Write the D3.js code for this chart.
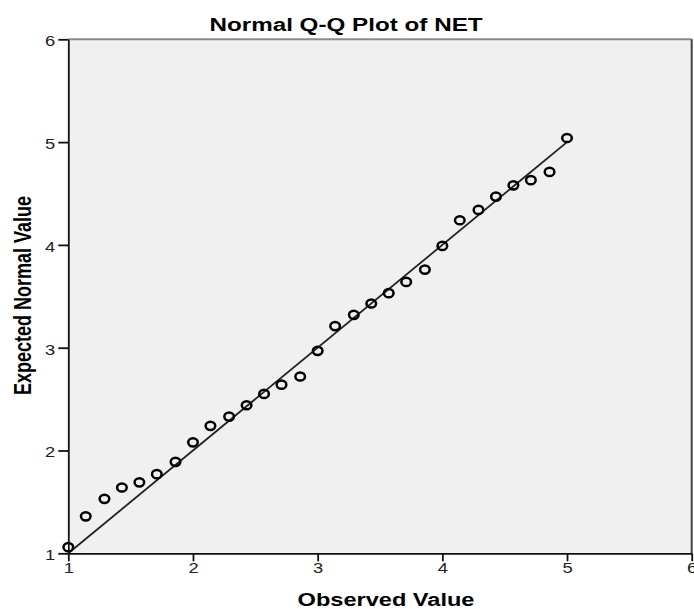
<!DOCTYPE html>
<html lang="en">
<head>
    <meta charset="UTF-8">
    <title>Normal Q-Q Plot of NET</title>
    <script src="https://cdn.jsdelivr.net/npm/d3@7"></script>
    <style>
        body { margin: 0; background: #fff; }
        text { font-family: "Liberation Sans", Arial, sans-serif; }
    </style>
</head>
<body>
    <svg id="chart" width="694" height="609"></svg>

    <script>
        // data
        const observed = [1.00, 1.14, 1.29, 1.43, 1.57, 1.71, 1.86, 2.00, 2.14, 2.29,
                          2.43, 2.57, 2.71, 2.86, 3.00, 3.14, 3.29, 3.43, 3.57, 3.71,
                          3.86, 4.00, 4.14, 4.29, 4.43, 4.57, 4.71, 4.86, 5.00];
        const expected = [1.06, 1.36, 1.53, 1.64, 1.69, 1.77, 1.89, 2.08, 2.24, 2.33,
                          2.44, 2.55, 2.64, 2.72, 2.97, 3.21, 3.32, 3.43, 3.53, 3.64,
                          3.76, 3.99, 4.24, 4.34, 4.47, 4.58, 4.63, 4.71, 5.04];
        const xTicks = [1, 2, 3, 4, 5, 6];
        const yTicks = [1, 2, 3, 4, 5, 6];
        const refLine = [1, 5]; // y = x reference line ends

        const width = 694;
        const height = 609;
        const plotLeft = 68.3, plotRight = 691.7, plotTop = 39.3, plotBottom = 553.3;
        const stretch = 1.31; // the original is stretched sideways

        const svg = d3.select("#chart")
            .attr("width", width)
            .attr("height", height);

        const x = d3.scaleLinear().domain([1, 6]).range([plotLeft, plotRight]);
        const y = d3.scaleLinear().domain([1, 6]).range([plotBottom, plotTop]);

        // plot background
        svg.append("rect")
            .attr("x", plotLeft)
            .attr("y", plotTop)
            .attr("width", plotRight - plotLeft)
            .attr("height", plotBottom - plotTop)
            .attr("fill", "#f0f0f0");

        // top and right frame
        svg.append("line")
            .attr("x1", plotLeft).attr("x2", plotRight)
            .attr("y1", plotTop).attr("y2", plotTop)
            .attr("stroke", "#8a8a8a")
            .attr("stroke-width", 2);
        svg.append("line")
            .attr("x1", plotRight).attr("x2", plotRight)
            .attr("y1", plotTop).attr("y2", plotBottom)
            .attr("stroke", "#444")
            .attr("stroke-width", 2);

        // stretch tick labels the same way as the original
        function stretchLabels(g) {
            g.selectAll(".tick text").each(function () {
                const t = d3.select(this);
                const tx = +t.attr("x") || 0;
                const ty = +t.attr("y") || 0;
                t.attr("x", 0).attr("y", 0)
                    .attr("transform", `translate(${tx},${ty}) scale(${stretch},1)`);
            });
        }

        const xAxis = svg.append("g")
            .attr("transform", `translate(0,${plotBottom})`)
            .call(d3.axisBottom(x).tickValues(xTicks).tickFormat(d3.format("d"))
                .tickSizeInner(8).tickSizeOuter(0).tickPadding(2));
        xAxis.select(".domain").attr("stroke", "#111").attr("stroke-width", 1.8);
        xAxis.selectAll(".tick line").attr("stroke", "#111").attr("stroke-width", 1.8);
        xAxis.selectAll(".tick text").attr("font-size", 14).attr("fill", "#222");
        stretchLabels(xAxis);

        const yAxis = svg.append("g")
            .attr("transform", `translate(${plotLeft},0)`)
            .call(d3.axisLeft(y).tickValues(yTicks).tickFormat(d3.format("d"))
                .tickSizeInner(10).tickSizeOuter(0).tickPadding(3));
        yAxis.select(".domain").attr("stroke", "#111").attr("stroke-width", 1.8);
        yAxis.selectAll(".tick line").attr("stroke", "#111").attr("stroke-width", 1.8);
        yAxis.selectAll(".tick text").attr("font-size", 14).attr("fill", "#222").attr("dy", "0.45em");
        stretchLabels(yAxis);

        // reference line
        svg.append("line")
            .attr("x1", x(refLine[0])).attr("y1", y(refLine[0]))
            .attr("x2", x(refLine[1])).attr("y2", y(refLine[1]))
            .attr("stroke", "#222")
            .attr("stroke-width", 1.8);

        // points
        svg.append("g")
            .selectAll("ellipse")
            .data(observed)
            .join("ellipse")
            .attr("cx", d => x(d))
            .attr("cy", (d, i) => y(expected[i]))
            .attr("rx", 4.8)
            .attr("ry", 4.1)
            .attr("fill", "none")
            .attr("stroke", "#000")
            .attr("stroke-width", 2.5);

        // titles
        svg.append("text")
            .attr("transform", `translate(346,30.5) scale(${stretch},1)`)
            .attr("text-anchor", "middle")
            .attr("font-size", 18.5)
            .attr("font-weight", "bold")
            .text("Normal Q-Q Plot of NET");

        svg.append("text")
            .attr("transform", `translate(386,606) scale(${stretch},1)`)
            .attr("text-anchor", "middle")
            .attr("font-size", 18)
            .attr("font-weight", "bold")
            .text("Observed Value");

        svg.append("text")
            .attr("transform", `translate(31,295.5) scale(${stretch},1) rotate(-90)`)
            .attr("text-anchor", "middle")
            .attr("font-size", 18)
            .attr("font-weight", "bold")
            .text("Expected Normal Value");
    </script>
</body>
</html>
